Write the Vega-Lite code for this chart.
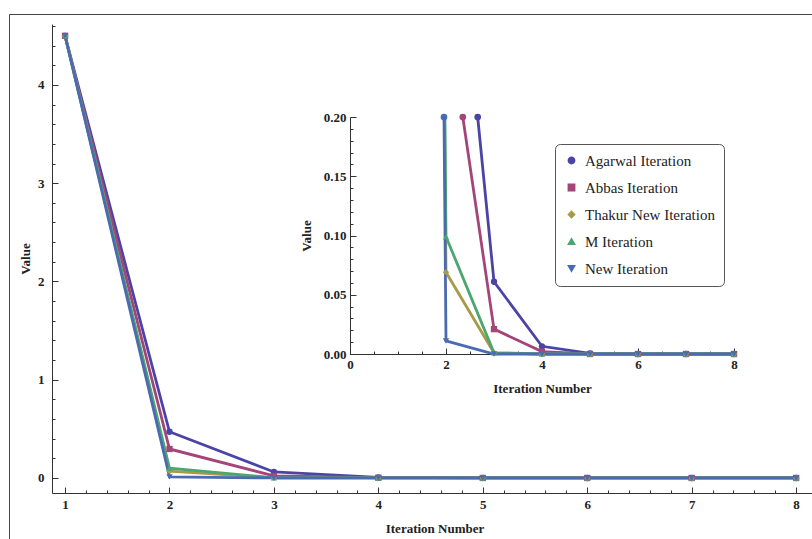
{
  "$schema": "https://vega.github.io/schema/vega-lite/v6.json",
  "autosize": "none",
  "width": 810,
  "height": 530,
  "padding": {"left": 9, "top": 14, "right": 0, "bottom": 0},
  "background": "white",
  "config": {
    "view": {"stroke": "#444", "strokeWidth": 1},
    "axis": {
      "labelFont": "Liberation Serif", "labelFontWeight": "bold", "labelFontSize": 13, "labelColor": "#222",
      "titleFont": "Liberation Serif", "titleFontWeight": "bold", "titleFontSize": 13, "titleColor": "#222",
      "domainColor": "#333", "tickColor": "#333", "grid": false, "labelOverlap": false, "labelFlush": false, "labelBound": false
    },
    "legend": {"labelFont": "Liberation Serif", "labelFontSize": 15, "labelColor": "#222"}
  },
  "datasets": {
    "main": [
      {"series": "Agarwal Iteration", "iter": 1, "value": 4.5},
      {"series": "Agarwal Iteration", "iter": 2, "value": 0.47},
      {"series": "Agarwal Iteration", "iter": 3, "value": 0.061},
      {"series": "Agarwal Iteration", "iter": 4, "value": 0.0065},
      {"series": "Agarwal Iteration", "iter": 5, "value": 0.0005},
      {"series": "Agarwal Iteration", "iter": 6, "value": 0},
      {"series": "Agarwal Iteration", "iter": 7, "value": 0},
      {"series": "Agarwal Iteration", "iter": 8, "value": 0},
      {"series": "Abbas Iteration", "iter": 1, "value": 4.5},
      {"series": "Abbas Iteration", "iter": 2, "value": 0.295},
      {"series": "Abbas Iteration", "iter": 3, "value": 0.021},
      {"series": "Abbas Iteration", "iter": 4, "value": 0.002},
      {"series": "Abbas Iteration", "iter": 5, "value": 0},
      {"series": "Abbas Iteration", "iter": 6, "value": 0},
      {"series": "Abbas Iteration", "iter": 7, "value": 0},
      {"series": "Abbas Iteration", "iter": 8, "value": 0},
      {"series": "Thakur New Iteration", "iter": 1, "value": 4.5},
      {"series": "Thakur New Iteration", "iter": 2, "value": 0.069},
      {"series": "Thakur New Iteration", "iter": 3, "value": 0.001},
      {"series": "Thakur New Iteration", "iter": 4, "value": 0},
      {"series": "Thakur New Iteration", "iter": 5, "value": 0},
      {"series": "Thakur New Iteration", "iter": 6, "value": 0},
      {"series": "Thakur New Iteration", "iter": 7, "value": 0},
      {"series": "Thakur New Iteration", "iter": 8, "value": 0},
      {"series": "M Iteration", "iter": 1, "value": 4.5},
      {"series": "M Iteration", "iter": 2, "value": 0.099},
      {"series": "M Iteration", "iter": 3, "value": 0.001},
      {"series": "M Iteration", "iter": 4, "value": 0},
      {"series": "M Iteration", "iter": 5, "value": 0},
      {"series": "M Iteration", "iter": 6, "value": 0},
      {"series": "M Iteration", "iter": 7, "value": 0},
      {"series": "M Iteration", "iter": 8, "value": 0},
      {"series": "New Iteration", "iter": 1, "value": 4.5},
      {"series": "New Iteration", "iter": 2, "value": 0.011},
      {"series": "New Iteration", "iter": 3, "value": 0},
      {"series": "New Iteration", "iter": 4, "value": 0},
      {"series": "New Iteration", "iter": 5, "value": 0},
      {"series": "New Iteration", "iter": 6, "value": 0},
      {"series": "New Iteration", "iter": 7, "value": 0},
      {"series": "New Iteration", "iter": 8, "value": 0}
    ],
    "inset": [
      {"series": "Agarwal Iteration", "iter": 2.66, "value": 0.2, "edge": true},
      {"series": "Agarwal Iteration", "iter": 3, "value": 0.061, "edge": false},
      {"series": "Agarwal Iteration", "iter": 4, "value": 0.0065, "edge": false},
      {"series": "Agarwal Iteration", "iter": 5, "value": 0.0005, "edge": false},
      {"series": "Agarwal Iteration", "iter": 6, "value": 0, "edge": false},
      {"series": "Agarwal Iteration", "iter": 7, "value": 0, "edge": false},
      {"series": "Agarwal Iteration", "iter": 8, "value": 0, "edge": false},
      {"series": "Abbas Iteration", "iter": 2.35, "value": 0.2, "edge": true},
      {"series": "Abbas Iteration", "iter": 3, "value": 0.021, "edge": false},
      {"series": "Abbas Iteration", "iter": 4, "value": 0.002, "edge": false},
      {"series": "Abbas Iteration", "iter": 5, "value": 0, "edge": false},
      {"series": "Abbas Iteration", "iter": 6, "value": 0, "edge": false},
      {"series": "Abbas Iteration", "iter": 7, "value": 0, "edge": false},
      {"series": "Abbas Iteration", "iter": 8, "value": 0, "edge": false},
      {"series": "Thakur New Iteration", "iter": 1.971, "value": 0.2, "edge": true},
      {"series": "Thakur New Iteration", "iter": 2, "value": 0.069, "edge": false},
      {"series": "Thakur New Iteration", "iter": 3, "value": 0.001, "edge": false},
      {"series": "Thakur New Iteration", "iter": 4, "value": 0, "edge": false},
      {"series": "Thakur New Iteration", "iter": 5, "value": 0, "edge": false},
      {"series": "Thakur New Iteration", "iter": 6, "value": 0, "edge": false},
      {"series": "Thakur New Iteration", "iter": 7, "value": 0, "edge": false},
      {"series": "Thakur New Iteration", "iter": 8, "value": 0, "edge": false},
      {"series": "M Iteration", "iter": 1.977, "value": 0.2, "edge": true},
      {"series": "M Iteration", "iter": 2, "value": 0.099, "edge": false},
      {"series": "M Iteration", "iter": 3, "value": 0.001, "edge": false},
      {"series": "M Iteration", "iter": 4, "value": 0, "edge": false},
      {"series": "M Iteration", "iter": 5, "value": 0, "edge": false},
      {"series": "M Iteration", "iter": 6, "value": 0, "edge": false},
      {"series": "M Iteration", "iter": 7, "value": 0, "edge": false},
      {"series": "M Iteration", "iter": 8, "value": 0, "edge": false},
      {"series": "New Iteration", "iter": 1.958, "value": 0.2, "edge": true},
      {"series": "New Iteration", "iter": 2, "value": 0.011, "edge": false},
      {"series": "New Iteration", "iter": 3, "value": 0, "edge": false},
      {"series": "New Iteration", "iter": 4, "value": 0, "edge": false},
      {"series": "New Iteration", "iter": 5, "value": 0, "edge": false},
      {"series": "New Iteration", "iter": 6, "value": 0, "edge": false},
      {"series": "New Iteration", "iter": 7, "value": 0, "edge": false},
      {"series": "New Iteration", "iter": 8, "value": 0, "edge": false}
    ]
  },
  "layer": [
    {
      "data": {"name": "main"},
      "encoding": {
        "x": {"field": "iter", "type": "quantitative",
          "scale": {"domain": [0.875, 8.2], "range": [43, 808], "nice": false, "zero": false},
          "axis": {"orient": "bottom", "offset": -51, "title": "Iteration Number", "titlePadding": 8,
            "values": [1,1.2,1.4,1.6,1.8,2,2.2,2.4,2.6,2.8,3,3.2,3.4,3.6,3.8,4,4.2,4.4,4.6,4.8,5,5.2,5.4,5.6,5.8,6,6.2,6.4,6.6,6.8,7,7.2,7.4,7.6,7.8,8],
            "labelExpr": "datum.value % 1 === 0 ? '' + datum.value : ''",
            "tickSize": {"condition": {"test": "datum.value % 1 === 0", "value": -6}, "value": -3},
            "labelPadding": 11}},
        "y": {"field": "value", "type": "quantitative",
          "scale": {"domain": [-0.153, 4.62], "range": [479, 10], "nice": false, "zero": false},
          "axis": {"orient": "left", "offset": -43, "title": "Value", "titlePadding": 5,
            "values": [0,0.2,0.4,0.6,0.8,1,1.2,1.4,1.6,1.8,2,2.2,2.4,2.6,2.8,3,3.2,3.4,3.6,3.8,4,4.2,4.4,4.6],
            "labelExpr": "datum.value % 1 === 0 ? '' + datum.value : ''",
            "tickSize": {"condition": {"test": "datum.value % 1 === 0", "value": -6}, "value": -3},
            "labelPadding": 14}},
        "color": {"field": "series", "type": "nominal",
          "scale": {"domain": ["Agarwal Iteration", "Abbas Iteration", "Thakur New Iteration", "M Iteration", "New Iteration"],
            "range": ["#4A44A6", "#A4457A", "#A99A4A", "#4BA670", "#4B6BB0"]},
          "legend": {"orient": "none", "legendX": 546, "legendY": 130, "title": null, "strokeColor": "#555", "cornerRadius": 5, "fillColor": "white", "padding": 9, "rowPadding": 11, "symbolSize": 40, "labelOffset": 6, "labelFont": "Liberation Serif", "labelFontSize": 15}}
      },
      "layer": [
        {"mark": {"type": "line", "strokeWidth": 2.8}},
        {"mark": {"type": "point", "filled": true, "size": 40, "opacity": 1},
          "encoding": {"shape": {"field": "series", "type": "nominal",
            "scale": {"domain": ["Agarwal Iteration", "Abbas Iteration", "Thakur New Iteration", "M Iteration", "New Iteration"],
              "range": ["circle", "square", "diamond", "triangle-up", "triangle-down"]},
            "legend": {"orient": "none", "legendX": 546, "legendY": 130, "title": null, "strokeColor": "#555", "cornerRadius": 5, "fillColor": "white", "padding": 9, "rowPadding": 11, "symbolSize": 40, "labelOffset": 6, "labelFont": "Liberation Serif", "labelFontSize": 15}}}}
      ]
    },
    {
      "data": {"name": "inset"},
      "encoding": {
        "x": {"field": "iter", "type": "quantitative",
          "scale": {"domain": [0, 8], "range": [341, 725], "nice": false, "zero": false},
          "axis": {"orient": "bottom", "offset": -190, "title": "Iteration Number", "titlePadding": 8,
            "values": [0,0.5,1,1.5,2,2.5,3,3.5,4,4.5,5,5.5,6,6.5,7,7.5,8],
            "labelExpr": "datum.value % 2 === 0 ? '' + datum.value : ''",
            "tickSize": {"condition": {"test": "datum.value % 2 === 0", "value": -6}, "value": -3},
            "labelPadding": 10}},
        "y": {"field": "value", "type": "quantitative",
          "scale": {"domain": [0, 0.2], "range": [340, 103], "nice": false, "zero": false},
          "axis": {"orient": "left", "offset": -341, "title": "Value", "titlePadding": 10, "format": ".2f",
            "values": [0,0.01,0.02,0.03,0.04,0.05,0.06,0.07,0.08,0.09,0.1,0.11,0.12,0.13,0.14,0.15,0.16,0.17,0.18,0.19,0.2],
            "labelExpr": "indexof([0,0.05,0.1,0.15,0.2], datum.value) >= 0 ? datum.label : ''",
            "tickSize": {"condition": {"test": "indexof([0,0.05,0.1,0.15,0.2], datum.value) >= 0", "value": -6}, "value": -3},
            "labelPadding": 10}},
        "color": {"field": "series", "type": "nominal"}
      },
      "layer": [
        {"mark": {"type": "line", "strokeWidth": 2.8}},
        {"transform": [{"filter": "!datum.edge"}],
          "mark": {"type": "point", "filled": true, "size": 40, "opacity": 1},
          "encoding": {"shape": {"field": "series", "type": "nominal"}}},
        {"transform": [{"filter": "datum.edge && datum.series != 'M Iteration' && datum.series != 'Thakur New Iteration'"}],
          "mark": {"type": "point", "filled": true, "size": 45, "opacity": 1, "shape": "circle", "color": "#4A44A6"}}
      ]
    }
  ],
  "resolve": {"scale": {"x": "independent", "y": "independent"}}
}
